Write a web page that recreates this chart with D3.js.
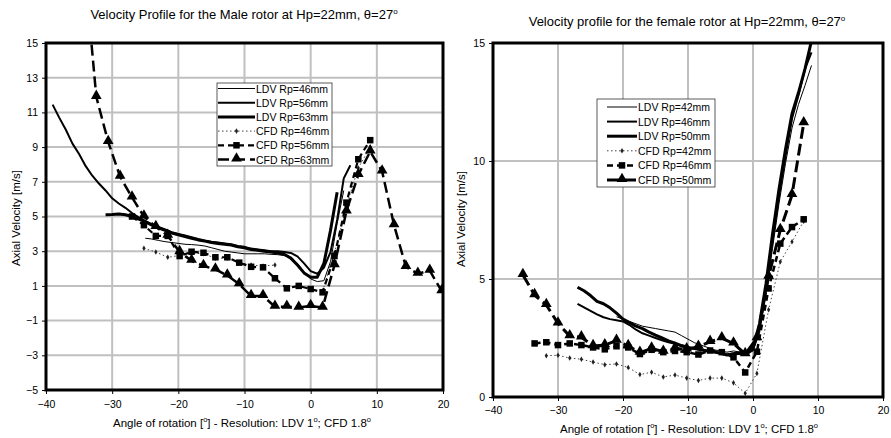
<!DOCTYPE html>
<html>
<head>
<meta charset="utf-8">
<script src="https://cdnjs.cloudflare.com/ajax/libs/d3/7.8.5/d3.min.js"></script>
<style>
body { margin: 0; background: #fff; }
text { font-family: "Liberation Sans", Arial, sans-serif; fill: #000; }
</style>
</head>
<body>
<svg id="chart" width="891" height="438"></svg>
<script>
// ---- male rotor (left panel) ----
var maleLdv46Angle = [-25,-24,-23,-22,-21,-20,-19,-18,-17,-16,-15,-14,-13,-12,-11,-10,-9,-8,-7,-6,-5,-4,-3,-2,-1,0,1,2,3,4,5];
var maleLdv46 = [3.75,3.7,3.62,3.55,3.5,3.45,3.4,3.38,3.35,3.3,3.2,3.1,3.0,2.95,2.9,2.85,2.85,2.85,2.85,2.82,2.8,2.75,2.6,2.3,1.8,1.4,1.25,1.3,2.4,4.6,6.5];

var maleLdv56Angle = [-39,-38,-37,-36,-35,-34,-33,-32,-31,-30,-29,-28,-27,-26,-25,-24,-23,-22,-21,-20,-19,-18,-17,-16,-15,-14,-13,-12,-11,-10,-9,-8,-7,-6,-5,-4,-3,-2,-1,0,1,2,3,4,5,6];
var maleLdv56 = [11.45,10.7,10.0,9.2,8.6,7.9,7.35,6.9,6.5,6.05,5.75,5.5,5.2,4.95,4.75,4.55,4.4,4.25,4.1,4.0,3.9,3.8,3.7,3.62,3.55,3.5,3.45,3.4,3.3,3.25,3.15,3.1,3.05,3.0,3.0,2.95,2.9,2.7,2.3,1.85,1.7,2.05,2.95,4.8,7.2,7.95];

var maleLdv63Angle = [-31,-30,-29,-28,-27,-26,-25,-24,-23,-22,-21,-20,-19,-18,-17,-16,-15,-14,-13,-12,-11,-10,-9,-8,-7,-6,-5,-4,-3,-2,-1,0,1,2,3,4];
var maleLdv63 = [5.1,5.12,5.15,5.1,5.0,4.85,4.7,4.5,4.35,4.2,4.05,3.95,3.85,3.75,3.65,3.58,3.5,3.45,3.4,3.35,3.25,3.2,3.1,3.05,3.0,2.95,2.9,2.82,2.6,2.2,1.75,1.5,1.5,2.3,4.2,6.4];

var maleCfd46Angle = [-25.2,-23.4,-21.6,-19.8,-18,-16.2,-14.4,-12.6,-10.8,-9,-7.2,-5.4,-3.6,-1.8,0,1.8,3.6,5.4,7.2,9];
var maleCfd46 = [3.17,2.95,2.65,2.75,2.9,2.85,2.6,2.6,2.35,2.2,2.15,2.2,null,null,null,0.7,2.9,5.6,7.8,9.0];

var maleCfd56Angle = [-27,-25.2,-23.4,-21.6,-19.8,-18,-16.2,-14.4,-12.6,-10.8,-9,-7.2,-5.4,-3.6,-1.8,0,1.8,3.6,5.4,7.2,9];
var maleCfd56 = [5.0,4.5,3.88,3.88,2.72,2.97,2.91,2.65,2.65,2.34,2.1,2.07,1.44,0.86,1.0,0.82,0.63,2.72,5.8,8.3,9.4];

var maleCfd63Angle = [-34.2,-32.4,-30.6,-28.8,-27,-25.2,-23.4,-21.6,-19.8,-18,-16.2,-14.4,-12.6,-10.8,-9,-7.2,-5.4,-3.6,-1.8,0,1.8,3.6,5.4,7.2,9,10.8,12.6,14.4,16.2,18,19.8];
var maleCfd63 = [19.5,11.9,9.3,7.3,6.1,5.0,4.4,3.9,2.95,2.45,2.15,1.95,1.6,1.1,0.42,0.42,-0.2,-0.2,-0.25,-0.15,-0.25,2.2,5.3,7.4,8.75,7.6,4.5,2.1,1.7,1.88,0.7];

// ---- female rotor (right panel) ----
var femLdv42Angle = [-21,-20,-19,-18,-17,-16,-15,-14,-13,-12,-11,-10,-9,-8,-7,-6,-5,-4,-3,-2,-1,0,1,2,3,4,5,6,7,8,9];
var femLdv42 = [3.4,3.3,3.2,3.1,3.0,2.95,2.9,2.85,2.8,2.75,2.6,2.45,2.3,2.2,2.1,2.0,1.95,1.9,1.95,1.9,1.8,1.95,2.7,4.4,6.3,8.2,9.9,11.4,12.4,13.2,14.05];

var femLdv46Angle = [-27,-26,-25,-24,-23,-22,-21,-20,-19,-18,-17,-16,-15,-14,-13,-12,-11,-10,-9,-8,-7,-6,-5,-4,-3,-2,-1,0,1,2,3,4,5,6,7,8,9];
var femLdv46 = [3.95,3.8,3.65,3.5,3.38,3.3,3.25,3.2,3.05,2.85,2.7,2.6,2.5,2.4,2.32,2.25,2.15,2.1,2.05,2.0,1.95,1.9,1.85,1.8,1.85,1.9,1.85,2.0,2.9,4.6,6.6,8.5,10.2,11.8,12.8,13.9,14.6];

var femLdv50Angle = [-27,-26,-25,-24,-23,-22,-21,-20,-19,-18,-17,-16,-15,-14,-13,-12,-11,-10,-9,-8,-7,-6,-5,-4,-3,-2,-1,0,1,2,3,4,5,6,7,8,9];
var femLdv50 = [4.65,4.5,4.3,4.05,3.95,3.78,3.55,3.3,3.15,3.0,2.9,2.75,2.62,2.5,2.38,2.28,2.18,2.1,2.05,2.0,1.95,1.92,1.85,1.78,1.82,1.85,1.8,2.1,3.1,4.8,6.9,8.8,10.5,12.0,12.9,13.9,15.1];

var femCfd42Angle = [-31.8,-30,-28.2,-26.4,-24.6,-22.8,-21,-19.2,-17.4,-15.6,-13.8,-12,-10.2,-8.4,-6.6,-4.8,-3,-1.2,0.6,2.4,4.2,6,7.8];
var femCfd42 = [1.75,1.77,1.65,1.6,1.48,1.37,1.4,1.25,0.95,1.05,0.85,0.93,0.8,0.7,0.8,0.8,0.6,0.16,1.0,3.7,5.73,6.58,7.45];

var femCfd46Angle = [-33.6,-31.8,-30,-28.2,-26.4,-24.6,-22.8,-21,-19.2,-17.4,-15.6,-13.8,-12,-10.2,-8.4,-6.6,-4.8,-3,-1.2,0.6,2.4,4.2,6,7.8];
var femCfd46 = [2.27,2.32,2.2,2.27,2.2,2.1,2.02,2.15,2.1,1.82,2.0,1.9,1.95,1.9,1.8,1.97,1.9,1.68,1.04,1.92,4.6,6.5,7.2,7.53];

var femCfd50Angle = [-35.4,-33.6,-31.8,-30,-28.2,-26.4,-24.6,-22.8,-21,-19.2,-17.4,-15.6,-13.8,-12,-10.2,-8.4,-6.6,-4.8,-3,-1.2,0.6,2.4,4.2,6,7.8];
var femCfd50 = [5.17,4.32,3.9,3.12,2.58,2.53,2.16,2.2,2.39,2.16,1.88,2.06,1.92,2.06,2.02,2.13,2.34,2.49,2.27,1.82,2.49,5.1,7.08,8.56,11.6];

var xTickValues = [-40, -30, -20, -10, 0, 10, 20];
var maleYTicks = [15, 13, 11, 9, 7, 5, 3, 1, -1, -3, -5];
var femYTicks = [0, 5, 10, 15];

var maleLabels = ['LDV Rp=46mm', 'LDV Rp=56mm', 'LDV Rp=63mm', 'CFD Rp=46mm', 'CFD Rp=56mm', 'CFD Rp=63mm'];
var femLabels = ['LDV Rp=42mm', 'LDV Rp=46mm', 'LDV Rp=50mm', 'CFD Rp=42mm', 'CFD Rp=46mm', 'CFD Rp=50mm'];

var svg = d3.select('#chart');

function zip(angles, values) {
    return angles.map((a, i) => ({ a: a, v: values[i] }));
}

// text with little superscript "o" degree marks
function richText(sel, parts, supSize) {
    parts.forEach(p => {
        if (p.sup) {
            sel.append('tspan').attr('dy', -5).style('font-size', supSize + 'px').text(p.t);
        } else {
            sel.append('tspan').attr('dy', p.back ? 5 : 0).text(p.t);
        }
    });
}

function drawMarker(g, type, x, y) {
    if (type == 'sq') {
        g.append('rect').attr('x', x - 3.25).attr('y', y - 3.25).attr('width', 6.5).attr('height', 6.5).attr('fill', '#000');
    } else if (type == 'tri') {
        g.append('path')
            .attr('d', d3.symbol(d3.symbolTriangle).size(50)())
            .attr('transform', 'translate(' + x + ',' + (y - 1) + ')')
            .attr('fill', '#000');
    } else if (type == 'dot') {
        g.append('path')
            .attr('d', d3.symbol(d3.symbolDiamond).size(9)())
            .attr('transform', 'translate(' + x + ',' + y + ')')
            .attr('fill', '#222');
    }
}

function drawPanel(opt) {
    var x = d3.scaleLinear().domain([-40, 20]).range([opt.left, opt.right]);
    var y = d3.scaleLinear().domain(opt.yDomain).range([opt.bottom, opt.top]);

    var panel = svg.append('g');

    // grid
    panel.append('g').selectAll('line')
        .data(xTickValues.slice(1, -1))
        .enter().append('line')
            .attr('x1', d => x(d)).attr('x2', d => x(d))
            .attr('y1', opt.top).attr('y2', opt.bottom)
            .attr('stroke', '#c0c0c0').attr('stroke-width', 2);
    panel.append('g').selectAll('line')
        .data(opt.yGrid)
        .enter().append('line')
            .attr('x1', opt.left).attr('x2', opt.right)
            .attr('y1', d => y(d)).attr('y2', d => y(d))
            .attr('stroke', '#c0c0c0').attr('stroke-width', 2);

    // series
    var clipId = 'clip-' + opt.id;
    svg.append('clipPath').attr('id', clipId)
        .append('rect')
            .attr('x', opt.left).attr('y', opt.top)
            .attr('width', opt.right - opt.left).attr('height', opt.bottom - opt.top);

    var plot = panel.append('g').attr('clip-path', 'url(#' + clipId + ')');

    var line = d3.line()
        .defined(d => d.v != null)
        .x(d => x(d.a))
        .y(d => y(d.v));

    opt.series.forEach(s => {
        var data = zip(s.angles, s.values);
        plot.append('path')
            .datum(data)
            .attr('fill', 'none')
            .attr('stroke', s.color)
            .attr('stroke-width', s.width)
            .attr('stroke-dasharray', s.dash)
            .attr('stroke-linejoin', 'round')
            .attr('d', line);
        if (s.marker) {
            data.filter(d => d.v != null).forEach(d => drawMarker(plot, s.marker, x(d.a), y(d.v)));
        }
    });

    // frame
    panel.append('rect')
        .attr('x', opt.left).attr('y', opt.top)
        .attr('width', opt.right - opt.left).attr('height', opt.bottom - opt.top)
        .attr('fill', 'none').attr('stroke', '#000').attr('stroke-width', 3);

    // axes
    var yAxis = panel.append('g')
        .attr('transform', 'translate(' + opt.left + ',0)')
        .call(d3.axisLeft(y).tickValues(opt.yTicks).tickSize(4).tickPadding(4).tickFormat(d3.format('d')));
    var xAxis = panel.append('g')
        .attr('transform', 'translate(0,' + opt.bottom + ')')
        .call(d3.axisBottom(x).tickValues(xTickValues).tickSize(4).tickPadding(opt.xPad).tickFormat(d3.format('d')));
    [yAxis, xAxis].forEach(a => {
        a.select('.domain').remove();
        a.selectAll('line').attr('stroke', '#000');
        a.selectAll('text').style('font-family', '"Liberation Sans", Arial, sans-serif').style('font-size', '10.5px').attr('fill', '#000');
    });

    // titles
    var title = panel.append('text')
        .attr('x', opt.titleX).attr('y', opt.titleY)
        .attr('text-anchor', 'middle')
        .style('font-size', '13px');
    richText(title, [{ t: opt.title }, { t: 'o', sup: true }], 8);

    var xlab = panel.append('text')
        .attr('x', opt.xlabX).attr('y', opt.xlabY)
        .attr('text-anchor', 'middle')
        .style('font-size', '11.5px');
    richText(xlab, [
        { t: 'Angle of rotation [' }, { t: 'o', sup: true },
        { t: '] - Resolution: LDV 1', back: true }, { t: 'o', sup: true },
        { t: '; CFD 1.8', back: true }, { t: 'o', sup: true }
    ], 7.5);

    panel.append('text')
        .attr('transform', 'translate(' + opt.ylabX + ',' + opt.ylabY + ') rotate(-90)')
        .attr('text-anchor', 'middle')
        .style('font-size', '11.5px')
        .text('Axial Velocity [m/s]');

    // legend
    var lg = opt.legend;
    var legend = panel.append('g').attr('transform', 'translate(' + lg.x + ',' + lg.y + ')');
    legend.append('rect')
        .attr('width', lg.w).attr('height', lg.h)
        .attr('fill', '#fff').attr('stroke', '#333').attr('stroke-width', 0.8);

    var legendRow = legend.selectAll('.legendRow')
        .data(opt.series)
        .enter()
        .append('g')
            .attr('class', 'legendRow')
            .attr('transform', (d, i) => 'translate(0,' + (lg.first + i * lg.step) + ')');

    legendRow.append('line')
        .attr('x1', lg.lx1).attr('x2', lg.lx2)
        .attr('y1', 0).attr('y2', 0)
        .attr('stroke', d => d.color)
        .attr('stroke-width', d => d.width)
        .attr('stroke-dasharray', d => d.legendDash || d.dash);
    legendRow.each(function(d) {
        if (d.marker) drawMarker(d3.select(this), d.marker, (lg.lx1 + lg.lx2) / 2, 0);
    });
    legendRow.append('text')
        .attr('x', lg.lx2 + 1)
        .attr('y', 4)
        .style('font-size', '10.5px')
        .text((d, i) => opt.labels[i]);
}

drawPanel({
    id: 'male',
    left: 46, right: 443, top: 43, bottom: 390,
    yDomain: [-5, 15],
    yTicks: maleYTicks,
    yGrid: [13, 11, 9, 7, 5, 3, 1, -1, -3],
    xPad: 7,
    title: 'Velocity Profile for the Male rotor at Hp=22mm, \u03b8=27',
    titleX: 244, titleY: 19,
    xlabX: 242, xlabY: 427,
    ylabX: 20, ylabY: 218,
    labels: maleLabels,
    legend: { x: 217, y: 83, w: 115, h: 83, first: 5.5, step: 14.2, lx1: 1, lx2: 38 },
    series: [
        { angles: maleLdv46Angle, values: maleLdv46, color: '#000', width: 1, dash: null },
        { angles: maleLdv56Angle, values: maleLdv56, color: '#000', width: 2, dash: null },
        { angles: maleLdv63Angle, values: maleLdv63, color: '#000', width: 3, dash: null },
        { angles: maleCfd46Angle, values: maleCfd46, color: '#444', width: 1, dash: '1.5,2.5', marker: 'dot' },
        { angles: maleCfd56Angle, values: maleCfd56, color: '#000', width: 2.2, dash: '6,4', marker: 'sq' },
        { angles: maleCfd63Angle, values: maleCfd63, color: '#000', width: 2.5, dash: '11,5', marker: 'tri' }
    ]
});

drawPanel({
    id: 'fem',
    left: 493, right: 883, top: 43, bottom: 397,
    yDomain: [0, 15],
    yTicks: femYTicks,
    yGrid: [5, 10],
    xPad: 6,
    title: 'Velocity profile for the female rotor at Hp=22mm, \u03b8=27',
    titleX: 687, titleY: 26,
    xlabX: 689, xlabY: 433,
    ylabX: 465, ylabY: 219,
    labels: femLabels,
    legend: { x: 597, y: 99, w: 118, h: 88, first: 8, step: 14.6, lx1: 10, lx2: 40 },
    series: [
        { angles: femLdv42Angle, values: femLdv42, color: '#000', width: 1, dash: null },
        { angles: femLdv46Angle, values: femLdv46, color: '#000', width: 2, dash: null },
        { angles: femLdv50Angle, values: femLdv50, color: '#000', width: 3, dash: null },
        { angles: femCfd42Angle, values: femCfd42, color: '#444', width: 1, dash: '1.5,2.5', marker: 'dot' },
        { angles: femCfd46Angle, values: femCfd46, color: '#000', width: 2.5, dash: '6,4', marker: 'sq' },
        { angles: femCfd50Angle, values: femCfd50, color: '#000', width: 3, dash: '12,5', marker: 'tri' }
    ]
});
</script>
</body>
</html>
